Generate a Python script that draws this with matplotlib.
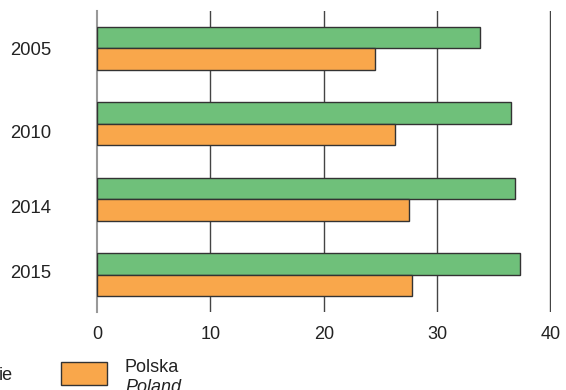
import numpy as np
from matplotlib import pyplot as plt
from matplotlib.patches import Rectangle
from matplotlib.transforms import ScaledTranslation

plt.rcParams['font.family'] = ['Liberation Sans', 'DejaVu Sans']

years = ['2005', '2010', '2014', '2015']
green_vals = [33.8, 36.5, 36.9, 37.3]
polska_vals = [24.5, 26.3, 27.5, 27.8]
xticks = [0, 10, 20, 30, 40]

green_color = '#6fc07a'
orange_color = '#f9a74b'
edge = '#333333'

W, H = 566, 390
fig = plt.figure(figsize=(W / 100, H / 100), dpi=100)
ax = fig.add_axes([97 / W, 1 - 312 / H, (551 - 97) / W, (312 - 11) / H])

y = np.arange(len(years))
h = 0.284
ax.barh(y - h / 2, green_vals, height=h, color=green_color, edgecolor=edge, linewidth=1, zorder=3)
ax.barh(y + h / 2, polska_vals, height=h, color=orange_color, edgecolor=edge, linewidth=1, zorder=3)

ax.set_xlim(0, 40.05)
ax.set_ylim(3.49, -0.49)
ax.set_xticks(xticks)
ax.set_xticklabels([str(t) for t in xticks], fontsize=13, color='#222222')
ax.set_yticks(y)
ax.set_yticklabels(years, fontsize=13.3, color='#222222')
ax.tick_params(axis='x', length=0, pad=10)
ax.tick_params(axis='y', length=0, pad=33)

# the year labels are not quite centred on their groups in the original
shifts = [0, -8, -7, 3]
for lab, dy in zip(ax.get_yticklabels(), shifts):
    lab.set_transform(lab.get_transform() + ScaledTranslation(0, dy / 100, fig.dpi_scale_trans))

for t in xticks[1:]:
    ax.axvline(t, color='#444444', linewidth=1, zorder=1)
for s in ['top', 'right', 'bottom']:
    ax.spines[s].set_visible(False)
ax.spines['left'].set_color('#999999')
ax.spines['left'].set_linewidth(1.5)

# legend (partly cut off at the bottom of the image)
fig.add_artist(Rectangle((61 / W, 1 - 385 / H), 46 / W, 23 / H, transform=fig.transFigure,
                         facecolor=orange_color, edgecolor=edge, linewidth=1))
fig.text(125 / W, 1 - 367 / H, 'Polska', fontsize=13, va='center', ha='left', color='#222222')
fig.text(125 / W, 1 - 388 / H, 'Poland', fontsize=13, style='italic', va='center', ha='left', color='#222222')
fig.text(13 / W, 1 - 375 / H, 'ie', fontsize=13, va='center', ha='right', color='#222222')

fig.savefig('out.png', dpi=100)
